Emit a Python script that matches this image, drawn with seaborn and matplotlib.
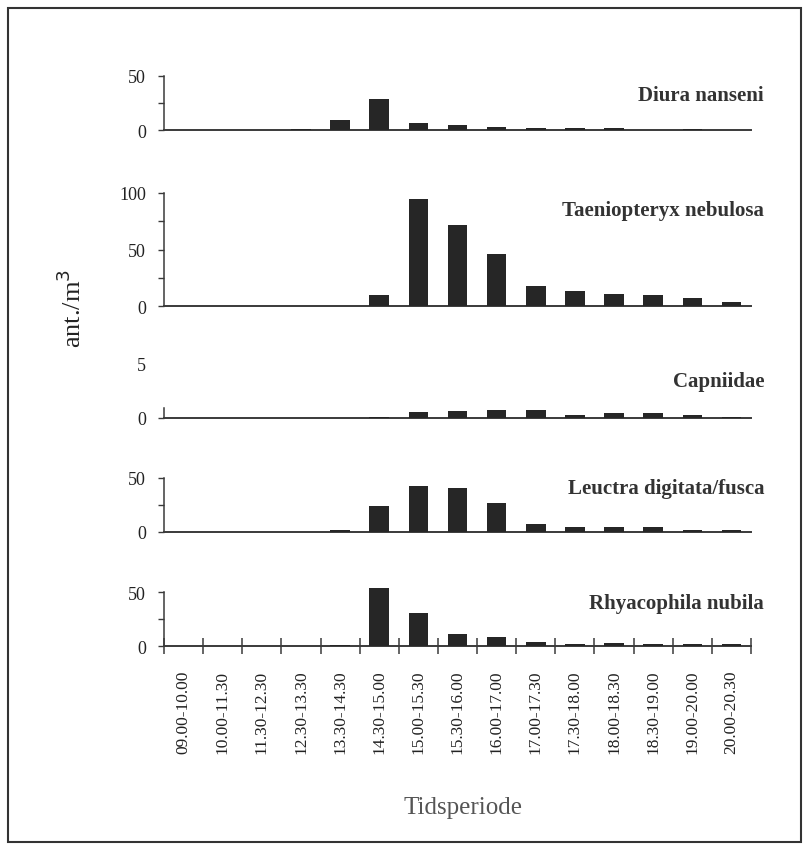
import matplotlib
matplotlib.use("Agg")
import pandas as pd
import matplotlib.pyplot as plt
from matplotlib.patches import Rectangle
import seaborn as sns

# time periods (x categories)
periods = ["09.00-10.00", "10.00-11.30", "11.30-12.30", "12.30-13.30", "13.30-14.30",
           "14.30-15.00", "15.00-15.30", "15.30-16.00", "16.00-17.00", "17.00-17.30",
           "17.30-18.00", "18.00-18.30", "18.30-19.00", "19.00-20.00", "20.00-20.30"]

# ant./m3 per species
diura = [0, 0, 0, 1.2, 9.5, 28.5, 6.5, 4.2, 2.6, 1.5, 1.5, 1.5, 0.4, 1.2, 0.3]
taeniopteryx = [0, 0, 0, 0, 0, 9.7, 94.5, 71.5, 46, 17.7, 13.2, 10.8, 9.5, 6.8, 3.8]
capniidae = [0, 0, 0, 0, 0, 0.08, 0.6, 0.68, 0.72, 0.78, 0.25, 0.48, 0.42, 0.25, 0.1]
leuctra = [0, 0, 0, 0, 1.5, 24, 42.5, 40.5, 26.5, 7.2, 4.8, 5, 4.2, 2.2, 1.5]
rhyacophila = [0.3, 0.3, 0.3, 0.3, 1.2, 53.5, 31, 11, 8, 3.8, 2.2, 3.2, 1.8, 2.2, 1.5]

species = ["Diura nanseni", "Taeniopteryx nebulosa", "Capniidae",
           "Leuctra digitata/fusca", "Rhyacophila nubila"]
values = [diura, taeniopteryx, capniidae, leuctra, rhyacophila]
ymax = [50, 100, 5, 50, 50]
ylabels = [[0, 50], [0, 50, 100], [0, 5], [0, 50], [0, 50]]
yminor = [[25], [25, 75], [], [25], [25]]

sns.set_theme(style="white")
plt.rcParams["font.family"] = ["Liberation Serif", "DejaVu Serif"]

W, H = 808, 845
fig = plt.figure(figsize=(W / 100, H / 100), dpi=100)
fig.patch.set_facecolor("white")

# panel layout in pixels: (baseline, top of scale, title y)
layout = [(131, 77, 96), (307, 194, 211), (419, 365, 382), (533, 479, 489), (647, 593, 604)]
x0, x1 = 164, 751
BAR = "#262626"
AX = "#3a3a3a"

df = pd.DataFrame({
    "period": periods * len(species),
    "value": [v for vals in values for v in vals],
    "species": [s for s in species for _ in periods],
})

for i, sp in enumerate(species):
    base, top, ty = layout[i]
    ax = fig.add_axes([x0 / W, 1 - base / H, (x1 - x0) / W, (base - top) / H])
    sub = df[df["species"] == sp]
    sns.barplot(data=sub, x="period", y="value", order=periods, color=BAR,
                width=0.5, saturation=1, linewidth=0, edgecolor=BAR, ax=ax)
    for p in ax.patches:
        p.set_clip_on(False)
        p.set_zorder(3)
    ax.set_xlim(-0.5, len(periods) - 0.5)
    ax.set_ylim(0, ymax[i])
    ax.set_facecolor("none")
    for s in ["top", "right"]:
        ax.spines[s].set_visible(False)
    ax.spines["bottom"].set_color(AX)
    ax.spines["bottom"].set_linewidth(1.4)
    ax.spines["left"].set_color(AX)
    ax.spines["left"].set_linewidth(1.1)
    if sp == "Capniidae":
        ax.spines["left"].set_bounds(0, 0.9)
    ax.set_yticks(ylabels[i])
    ax.set_yticks(yminor[i], minor=True)
    ax.tick_params(axis="y", which="both", direction="out", length=4, width=1,
                   color=AX, left=True, pad=9, labelsize=13, labelcolor="#222222")
    if sp == "Capniidae":
        ax.yaxis.get_major_ticks()[1].tick1line.set_visible(False)
    ax.set_xlabel("")
    ax.set_ylabel("")
    ax.grid(False)
    if i < len(species) - 1:
        ax.set_xticks([])
    else:
        ax.set_xticks([k - 0.5 for k in range(len(periods) + 1)])
        ax.set_xticklabels([])
        ax.set_xticks(range(len(periods)), minor=True)
        ax.set_xticklabels(periods, minor=True, rotation=90, va="top")
        ax.tick_params(axis="x", which="major", direction="inout", length=12,
                       width=1.1, color=AX, bottom=True)
        ax.tick_params(axis="x", which="minor", length=0, pad=17, labelsize=12.5,
                       labelcolor="#222222")
    fig.text(764 / W, 1 - ty / H, sp, ha="right", va="center",
             fontsize=15, fontweight="bold", color="#333333")

fig.text(72 / W, 1 - 308 / H, "ant./m$^3$", rotation=90, ha="center", va="center",
         fontsize=19, color="#222222")
fig.text(463 / W, 1 - 808 / H, "Tidsperiode", ha="center", va="center",
         fontsize=18, color="#555555")

fig.patches.append(Rectangle((8 / W, 1 - 843 / H), 793 / W, 834 / H,
                             transform=fig.transFigure, fill=False,
                             edgecolor="#333333", linewidth=1.5))

fig.savefig("out.png", dpi=100, facecolor="white")
